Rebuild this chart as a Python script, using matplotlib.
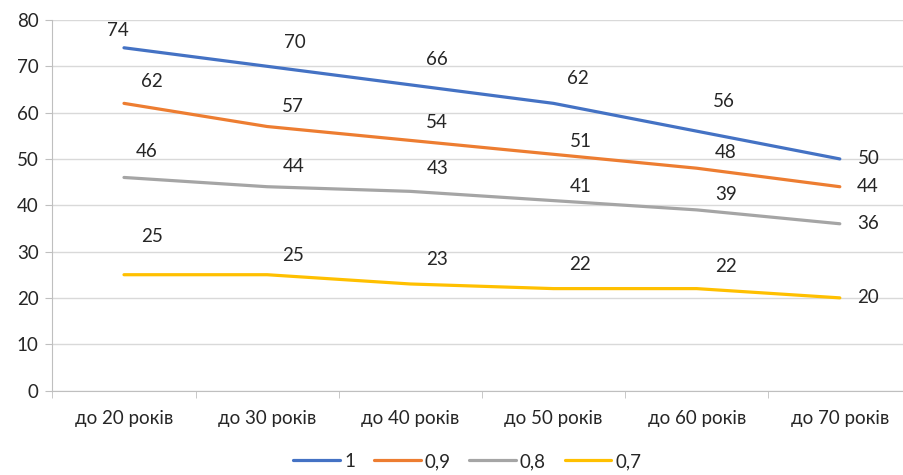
import matplotlib.pyplot as plt

categories = ["до 20 років", "до 30 років", "до 40 років", "до 50 років", "до 60 років", "до 70 років"]
series_names = ["1", "0,9", "0,8", "0,7"]
s_1 = [74, 70, 66, 62, 56, 50]
s_09 = [62, 57, 54, 51, 48, 44]
s_08 = [46, 44, 43, 41, 39, 36]
s_07 = [25, 25, 23, 22, 22, 20]

COLORS = ["#4472C4", "#ED7D31", "#A5A5A5", "#FFC000"]
GRID = "#D9D9D9"
AXIS = "#BFBFBF"
TEXT = "#262626"

# label offsets in pixels (dx, dy), one row per series
label_dy = [
    [17, 24, 25, 25, 30, 0],
    [22, 20, 18, 13, 16, 0],
    [26, 20, 23, 14, 15, 0],
    [38, 19, 24, 24, 22, 0],
]
label_dx = [
    [-6, 28, 27, 24, 27, 29],
    [28, 26, 27, 27, 29, 28],
    [23, 26, 27, 27, 29, 28],
    [28, 26, 27, 27, 29, 28],
]

plt.rcParams["font.family"] = ["Lato", "DejaVu Sans"]
FS = 13.5

fig = plt.figure(figsize=(9.04, 4.75), dpi=100)
ax = fig.add_axes([52.4 / 904, 84.5 / 475, 859 / 904, 370.5 / 475])

x = list(range(len(categories)))
all_series = [s_1, s_09, s_08, s_07]
for vals, name, col, dys, dxs in zip(all_series, series_names, COLORS, label_dy, label_dx):
    ax.plot(x, vals, color=col, lw=2.3, label=name, solid_capstyle="round", zorder=3)
    for xi, v, dy, dx in zip(x, vals, dys, dxs):
        ax.annotate(str(v), (xi, v), xytext=(dx * 0.72, dy * 0.72), textcoords="offset points",
                    ha="center", va="center", fontsize=FS, color=TEXT)

ax.set_xlim(-0.5, 5.5)
ax.set_ylim(0, 80)
ax.set_yticks(range(0, 81, 10))
ax.set_xticks(x)
ax.set_xticklabels(categories)
ax.set_xticks([i - 0.5 for i in range(7)], minor=True)
ax.grid(axis="y", color=GRID, lw=1)
ax.set_axisbelow(True)
for side in ["top", "right"]:
    ax.spines[side].set_visible(False)
ax.spines["left"].set_color(AXIS)
ax.spines["bottom"].set_color(AXIS)
ax.tick_params(axis="y", length=5, color=AXIS, labelsize=FS, labelcolor=TEXT, pad=5)
ax.tick_params(axis="x", which="major", length=0, labelsize=FS, labelcolor=TEXT, pad=14)
ax.tick_params(axis="x", which="minor", length=5, color=AXIS)

fig.legend(loc="lower center", ncol=4, frameon=False, fontsize=FS, handlelength=2.5,
           handletextpad=0.2, columnspacing=1.0, bbox_to_anchor=(0.517, -0.025),
           labelcolor=TEXT)

fig.savefig("out.png", dpi=100)
